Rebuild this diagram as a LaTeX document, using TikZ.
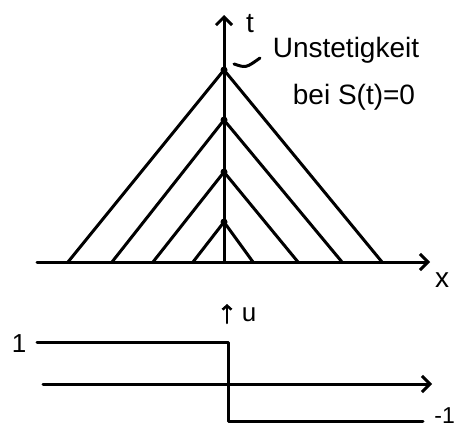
\documentclass[tikz,border=0pt]{standalone}
\usepackage{fontspec}
\setmainfont{Liberation Sans}
\usetikzlibrary{arrows.meta}
\begin{document}
\begin{tikzpicture}[x=1pt,y=-1pt,
  ln/.style={line width=3pt, line cap=round, line join=round},
  ax/.style={ln, -{Straight Barb[length=8pt,width=16pt,line width=3pt]}},
  lbl/.style={inner sep=0pt, font=\fontsize{28}{32}\selectfont},
  slbl/.style={inner sep=0pt, font=\fontsize{26}{30}\selectfont},
  dotc/.style={circle, fill, inner sep=0pt, minimum size=7pt}]
\useasboundingbox (0,0) rectangle (461,431);
% top axes
\coordinate (xs) at (37,262);
\coordinate (xe) at (430,262);
\coordinate (ts) at (224,262);
\coordinate (te) at (224,15);
\draw[ax] (xs) -- (xe);
\draw[ax] (ts) -- (te);
\node[lbl] (tl) at (250,24) {t};
\node[lbl] (xl) at (442,280) {x};
% apexes
\node[dotc] (a1) at (224,70) {};
\node[dotc] (a2) at (224,120) {};
\node[dotc] (a3) at (224,172) {};
\node[dotc] (a4) at (224,222) {};
\coordinate (l1) at (68,262);  \coordinate (r1) at (382,262);
\coordinate (l2) at (112,262); \coordinate (r2) at (342,262);
\coordinate (l3) at (153,262); \coordinate (r3) at (298,262);
\coordinate (l4) at (193,262); \coordinate (r4) at (253,262);
\draw[ln] (l1) -- (a1.center) -- (r1);
\draw[ln] (l2) -- (a2.center) -- (r2);
\draw[ln] (l3) -- (a3.center) -- (r3);
\draw[ln] (l4) -- (a4.center) -- (r4);
% annotation
\node[lbl] (u1) at (346,50) {Unstetigkeit};
\node[lbl] (u2) at (354,97) {bei S(t)=0};
\coordinate (c1) at (234,64);
\coordinate (c2) at (260,58);
\draw[ln] (c1) .. controls (246,68) .. (c2);
% bottom
\coordinate (bs) at (43,384);
\coordinate (be) at (432,384);
\draw[ax] (bs) -- (be);
\coordinate (us) at (227,323);
\coordinate (ue) at (227,304);
\draw[line width=2.5pt, line cap=round, -{Straight Barb[length=4pt,width=9pt,line width=2.5pt]}] (us) -- (ue);
\node[slbl] (ul) at (249,315) {u};
\coordinate (p0) at (37,342);
\coordinate (p1) at (228,342);
\coordinate (p2) at (228,421);
\coordinate (p3) at (423,421);
\draw[ln] (p0) -- (p1) -- (p2) -- (p3);
\node[slbl] (one) at (19,344) {1};
\node[slbl, anchor=east, font=\fontsize{23}{26}\selectfont] (mone) at (455,416) {-1};
\end{tikzpicture}
\end{document}
